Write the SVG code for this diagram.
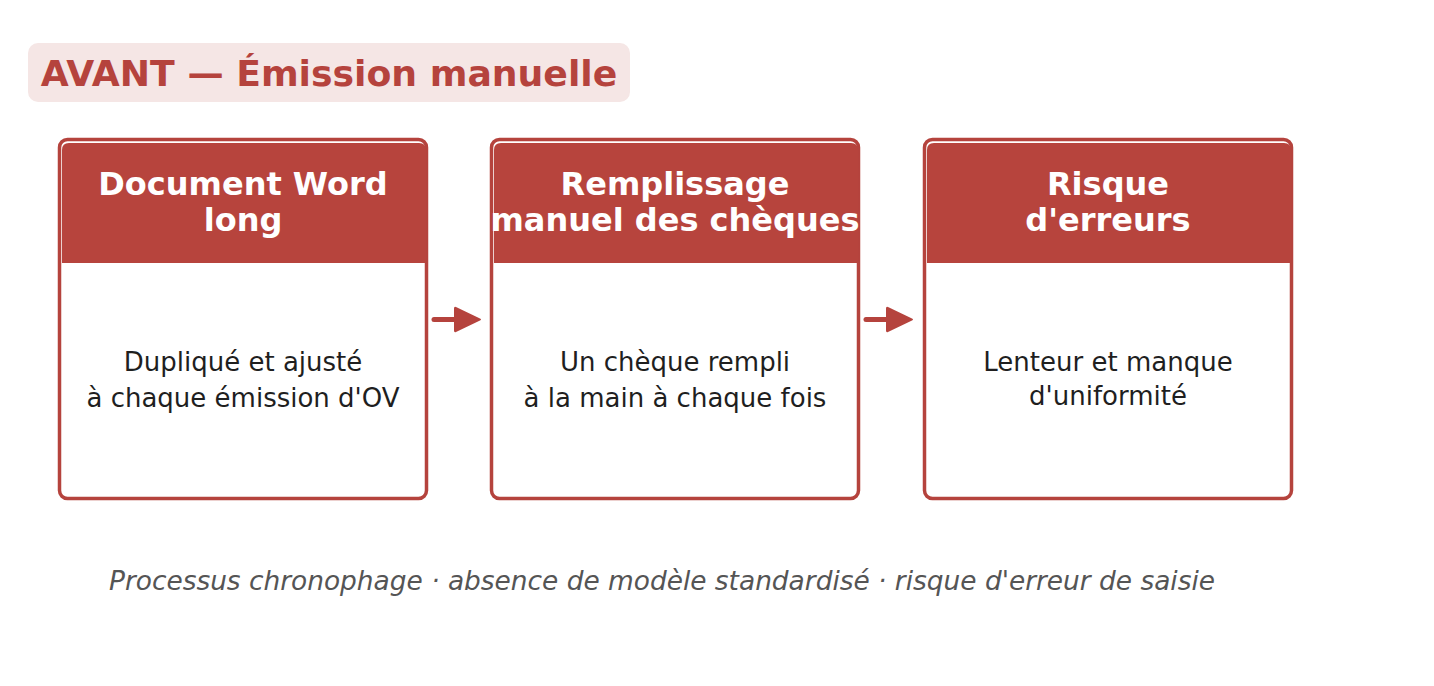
<svg xmlns="http://www.w3.org/2000/svg" width="1434" height="686" viewBox="0 0 1434 686">
<defs>
<style>
.card{fill:#ffffff;stroke:#b5433d;stroke-width:3.5}
.head{fill:#b7443d}
.ht{font-family:"DejaVu Sans",sans-serif;font-weight:bold;font-size:32px;fill:#ffffff;text-anchor:middle}
.bt{font-family:"DejaVu Sans",sans-serif;font-size:26px;fill:#1f1f1f;text-anchor:middle}
.conn{stroke:#b5433d;stroke-width:5;stroke-linecap:round;fill:none}
</style>
<marker id="ah" markerUnits="userSpaceOnUse" markerWidth="28" markerHeight="28" refX="2" refY="14" orient="auto" viewBox="0 0 28 28">
<path d="M2,1.5 L26,13 Q28,14 26,15 L2,26.5 Q0,27.5 0,25 L0,3 Q0,0.5 2,1.5 Z" fill="#b5433d"/>
</marker>
</defs>
<rect width="1434" height="686" fill="#ffffff"/>
<g id="title">
<rect x="28" y="43" width="602" height="59" rx="10" fill="#f5e6e5"/>
<text x="329" y="86" font-family="DejaVu Sans, sans-serif" font-weight="bold" font-size="36.2" fill="#b5433d" text-anchor="middle">AVANT — Émission manuelle</text>
</g>
<g id="node1">
<rect class="card" x="59.5" y="139.5" width="367" height="359" rx="8"/>
<path class="head" d="M62,263 V150 Q62,143 69,143 H419 Q426,143 426,150 V263 Z"/>
<text class="ht" x="243" y="195">Document Word</text>
<text class="ht" x="243" y="231">long</text>
<text class="bt" x="243" y="371">Dupliqué et ajusté</text>
<text class="bt" x="243" y="407">à chaque émission d'OV</text>
</g>
<g id="node2">
<rect class="card" x="491.5" y="139.5" width="367" height="359" rx="8"/>
<path class="head" d="M494,263 V150 Q494,143 501,143 H851 Q858,143 858,150 V263 Z"/>
<text class="ht" x="675" y="195">Remplissage</text>
<text class="ht" x="675" y="231">manuel des chèques</text>
<text class="bt" x="675" y="371">Un chèque rempli</text>
<text class="bt" x="675" y="407">à la main à chaque fois</text>
</g>
<g id="node3">
<rect class="card" x="924.5" y="139.5" width="367" height="359" rx="8"/>
<path class="head" d="M927,263 V150 Q927,143 934,143 H1284 Q1291,143 1291,150 V263 Z"/>
<text class="ht" x="1108" y="195">Risque</text>
<text class="ht" x="1108" y="231">d'erreurs</text>
<text class="bt" x="1108" y="371">Lenteur et manque</text>
<text class="bt" x="1108" y="405">d'uniformité</text>
</g>
<g id="connectors">
<line class="conn" x1="434" y1="319.5" x2="456" y2="319.5" marker-end="url(#ah)"/>
<line class="conn" x1="866" y1="319.5" x2="888" y2="319.5" marker-end="url(#ah)"/>
</g>
<g id="footer">
<text x="662" y="590" font-family="DejaVu Sans, sans-serif" font-style="italic" font-size="26.4" fill="#555555" text-anchor="middle">Processus chronophage · absence de modèle standardisé · risque d'erreur de saisie</text>
</g>
</svg>
